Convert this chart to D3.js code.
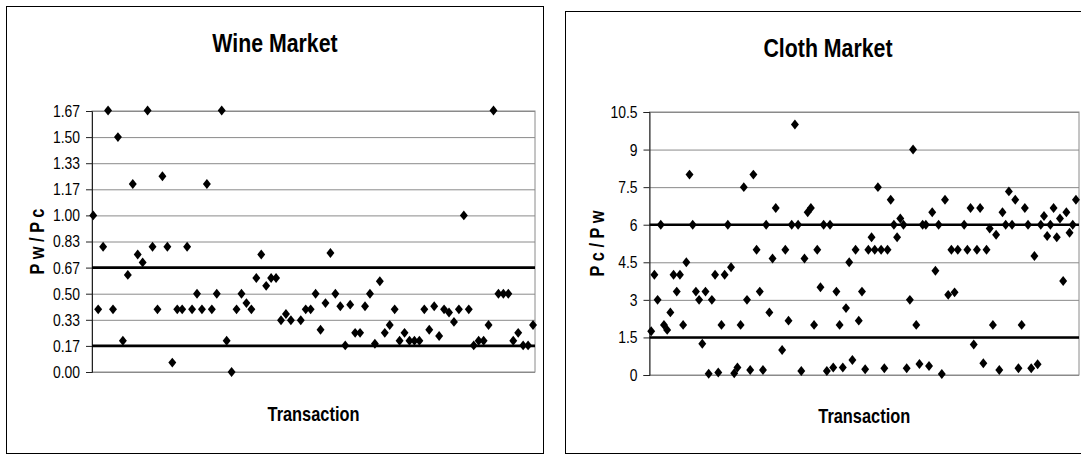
<!DOCTYPE html>
<html>
<head>
<meta charset="utf-8">
<script src="https://cdn.jsdelivr.net/npm/d3@7"></script>
<style>
  body { margin: 0; background: #fff; }
  svg text { font-family: 'Liberation Sans', Arial, sans-serif; fill: #000; }
  .title { font-size: 26px; font-weight: bold; }
  .axis-title { font-size: 20px; font-weight: bold; }
  .tick text { font-size: 17px; }
</style>
</head>
<body>
<svg id="chart" width="1081" height="454"></svg>
<script>
// price ratio of each transaction, in order (null = slot with no marker)
const wineRatio = [
  1.00, 0.40, 0.80, 1.67, 0.40, 1.50, 0.20, 0.62, 1.20, 0.75,
  0.70, 1.67, 0.80, 0.40, 1.25, 0.80, 0.06, 0.40, 0.40, 0.80,
  0.40, 0.50, 0.40, 1.20, 0.40, 0.50, 1.67, 0.20, 0.00, 0.40,
  0.50, 0.44, 0.40, 0.60, 0.75, 0.55, 0.60, 0.60, 0.33, 0.37,
  0.33, null, 0.33, 0.40, 0.40, 0.50, 0.27, 0.44, 0.76, 0.50,
  0.42, 0.17, 0.43, 0.25, 0.25, 0.42, 0.50, 0.18, 0.58, 0.25,
  0.30, 0.40, 0.20, 0.25, 0.20, 0.20, 0.20, 0.40, 0.27, 0.42,
  0.23, 0.40, 0.38, 0.32, 0.40, 1.00, 0.40, 0.17, 0.20, 0.20,
  0.30, 1.67, 0.50, 0.50, 0.50, 0.20, 0.25, 0.17, 0.17, 0.30
];

const clothRatio = [
  1.75, 4.0, 3.0, 6.0, 2.0, 1.8, 2.5, 4.0, 3.33, 4.0,
  2.0, 4.5, 8.0, 6.0, 3.33, 3.0, 1.25, 3.33, 0.05, 3.0,
  4.0, 0.1, 2.0, 4.0, 6.0, 4.3, 0.07, 0.3, 2.0, 7.5,
  3.0, 0.2, 8.0, 5.0, 3.33, 0.2, 6.0, 2.5, 4.65, 6.67,
  null, 1.0, 5.0, 2.17, 6.0, 10.0, 6.0, 0.16, 4.65, 6.5,
  6.67, 2.0, 5.0, 3.5, 6.0, 0.16, 6.0, 0.3, 3.33, 2.0,
  0.3, 2.67, 4.5, 0.6, 5.0, 2.17, 3.33, 0.23, 5.0, 5.5,
  5.0, 7.5, 5.0, 0.27, 5.0, 7.0, 6.0, 5.5, 6.25, 6.0,
  0.27, 3.0, 9.0, 2.0, 0.44, 6.0, 6.0, 0.36, 6.5, 4.16,
  6.0, 0.04, 7.0, 3.2, 5.0, 3.3, 5.0, null, 6.0, 5.0,
  6.67, 1.22, 5.0, 6.67, 0.47, 5.0, 5.85, 2.0, 5.6, 0.2,
  6.5, 6.0, 7.33, 6.0, 7.0, 0.27, 2.0, 6.67, 6.0, 0.27,
  4.75, 0.43, 6.0, 6.35, 5.55, 6.0, 6.67, 5.5, 6.25, 3.75,
  6.5, 5.68, 6.0, 7.0
];

// y-axis ticks
const wineTicks = [0, 0.1667, 0.3333, 0.5, 0.6667, 0.8333, 1, 1.1667, 1.3333, 1.5, 1.6667];
const clothTicks = [0, 1.5, 3, 4.5, 6, 7.5, 9, 10.5];

// the two heavy reference lines in each market
const wineBounds = [0.1667, 0.6667];
const clothBounds = [1.5, 6];

// the original uses a narrow face; no narrow font here, so squeeze Liberation Sans
const squeeze = 0.82;

const svg = d3.select('#chart');

// filled diamond, a bit taller than wide
const diamond = {
  draw(context, size) {
    const h = Math.sqrt(size) * 0.62;
    const w = h * 0.8;
    context.moveTo(0, -h);
    context.lineTo(w, 0);
    context.lineTo(0, h);
    context.lineTo(-w, 0);
    context.closePath();
  }
};

const drawPanel = p => {
  const g = svg.append('g');

  // chart area frame
  g.append('rect')
    .attr('x', p.frame.x)
    .attr('y', p.frame.y)
    .attr('width', p.frame.w)
    .attr('height', p.frame.h)
    .attr('fill', '#fff')
    .attr('stroke', '#000')
    .attr('stroke-width', 1);

  const xScale = d3
    .scaleLinear()
    .domain(p.xDomain)
    .range([p.left, p.right]);
  const yScale = d3
    .scaleLinear()
    .domain([0, p.yMax])
    .range([p.bottom, p.top]);

  // gridlines
  g.append('g')
    .attr('transform', `translate(${p.left},0)`)
    .call(d3.axisLeft(yScale).tickValues(p.ticks).tickSize(-(p.right - p.left)).tickFormat(''))
    .call(a => a.select('.domain').remove())
    .selectAll('line')
    .attr('stroke', '#8a8a8a');

  // plot area border
  g.append('rect')
    .attr('x', p.left)
    .attr('y', p.top)
    .attr('width', p.right - p.left)
    .attr('height', p.bottom - p.top)
    .attr('fill', 'none')
    .attr('stroke', '#8a8a8a');

  // y axis
  const yAxis = g.append('g')
    .attr('transform', `translate(${p.left},0)`)
    .call(d3.axisLeft(yScale).tickValues(p.ticks).tickSize(6).tickPadding(6).tickFormat(p.format));
  yAxis.select('.domain').attr('stroke', '#222');
  yAxis.selectAll('.tick line').attr('stroke', '#222');
  yAxis.selectAll('.tick text')
    .attr('x', null)
    .attr('transform', `translate(-12,0) scale(${squeeze},1)`);

  // heavy reference lines
  g.selectAll('.bound')
    .data(p.bounds)
    .enter()
    .append('line')
    .attr('class', 'bound')
    .attr('x1', p.left)
    .attr('x2', p.right)
    .attr('y1', d => yScale(d))
    .attr('y2', d => yScale(d))
    .attr('stroke', '#000')
    .attr('stroke-width', 2.6);

  // transactions
  const pts = p.data
    .map((v, i) => ({ x: i + 1, y: v }))
    .filter(d => d.y !== null);
  g.selectAll('.pt')
    .data(pts)
    .enter()
    .append('path')
    .attr('class', 'pt')
    .attr('d', d3.symbol().type(diamond).size(64))
    .attr('transform', d => `translate(${xScale(d.x)},${yScale(d.y)})`)
    .attr('fill', '#000');

  // titles
  g.append('text')
    .attr('class', 'title')
    .attr('transform', `translate(${p.titleX},${p.titleY}) scale(${squeeze},1)`)
    .attr('text-anchor', 'middle')
    .text(p.title);

  g.append('text')
    .attr('class', 'axis-title')
    .attr('transform', `translate(${(p.left + p.right) / 2},${p.xTitleY}) scale(${squeeze},1)`)
    .attr('text-anchor', 'middle')
    .text('Transaction');

  g.append('text')
    .attr('class', 'axis-title')
    .attr('transform', `translate(${p.yTitleX},${(p.top + p.bottom) / 2}) rotate(-90) scale(${squeeze},1)`)
    .attr('text-anchor', 'middle')
    .attr('dominant-baseline', 'central')
    .text(p.yTitle);
};

drawPanel({
  frame: { x: 6.5, y: 6.5, w: 537, h: 447 },
  left: 92, right: 535, top: 111, bottom: 372,
  xDomain: [0.75, 90.4],
  yMax: 1.6667,
  ticks: wineTicks,
  format: d3.format('.2f'),
  bounds: wineBounds,
  data: wineRatio,
  title: 'Wine Market',
  titleX: 275, titleY: 52,
  xTitleY: 421,
  yTitle: 'P w / P c',
  yTitleX: 37
});

drawPanel({
  frame: { x: 565.5, y: 11.5, w: 540, h: 442 },
  left: 649.5, right: 1079, top: 112, bottom: 375,
  xDomain: [0.47, 134.96],
  yMax: 10.5,
  ticks: clothTicks,
  format: d3.format(''),
  bounds: clothBounds,
  data: clothRatio,
  title: 'Cloth Market',
  titleX: 828, titleY: 57,
  xTitleY: 423,
  yTitle: 'P c / P w',
  yTitleX: 597
});
</script>
</body>
</html>
